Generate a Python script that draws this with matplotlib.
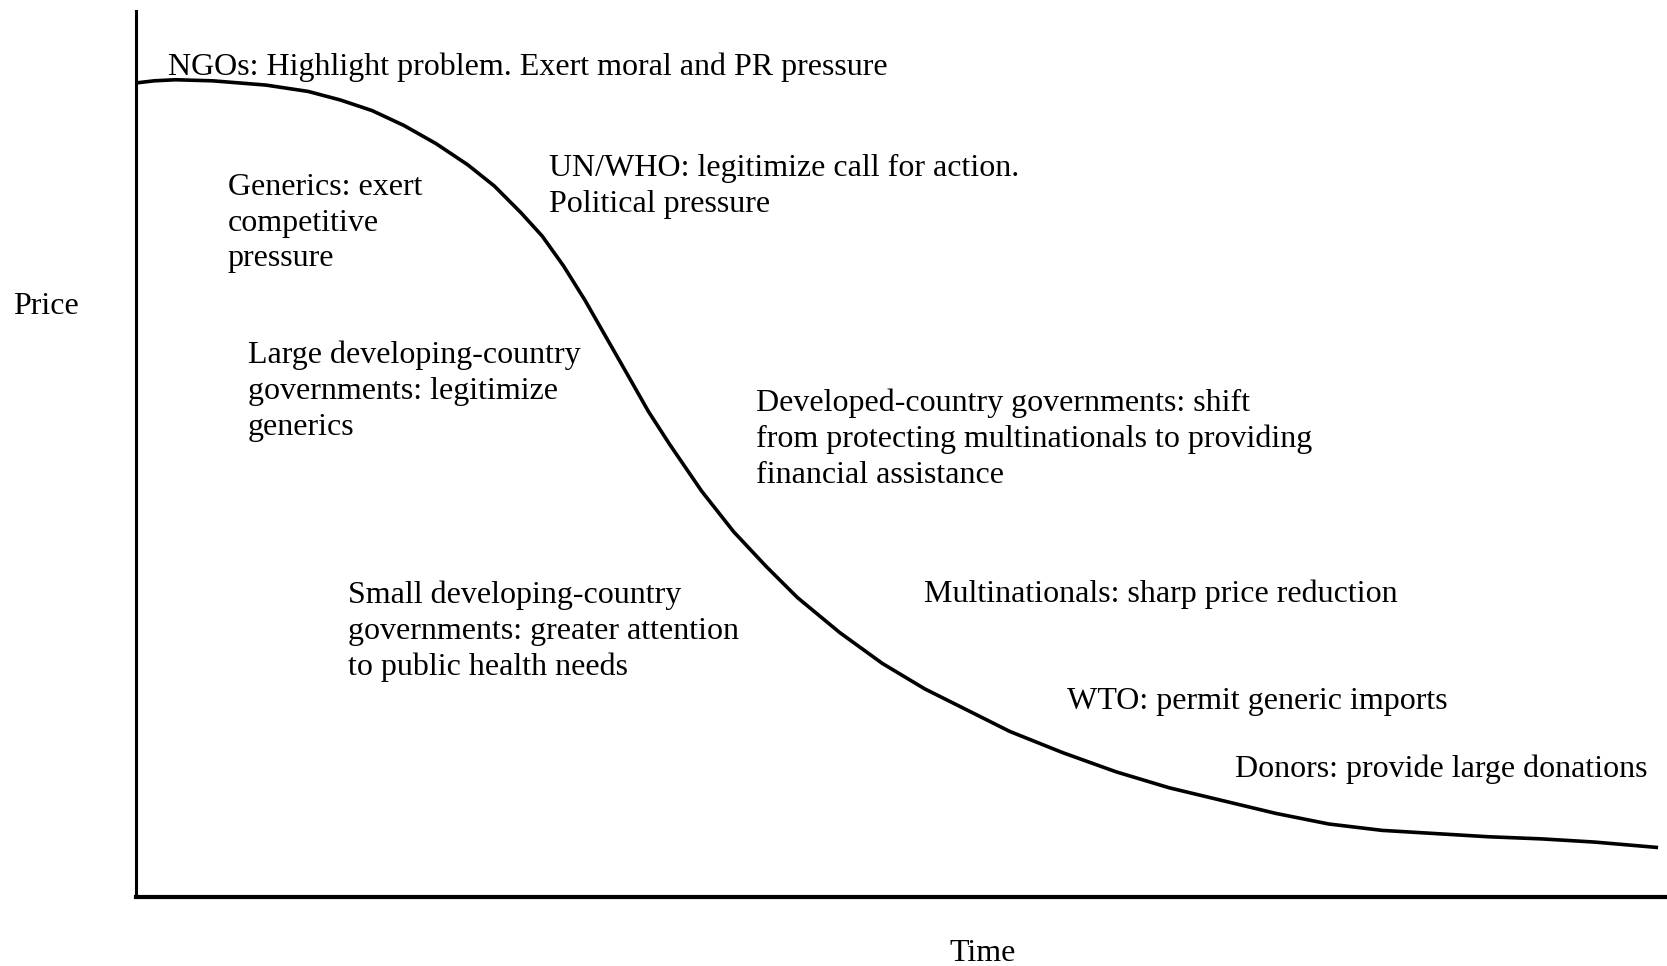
import matplotlib
matplotlib.use('Agg')
import matplotlib.pyplot as plt

plt.rcParams['font.family'] = ['Liberation Serif', 'DejaVu Serif']

# price curve (time and price in % of axis length)
time = [0.0, 1.19, 2.57, 5.00, 8.48, 11.25, 13.34, 15.42, 17.50, 19.59,
        21.67, 23.41, 25.14, 26.53, 27.92, 29.31, 30.70, 32.09, 33.47, 34.86,
        36.95, 39.03, 41.11, 43.20, 45.97, 48.75, 51.53, 54.31, 57.08, 60.55,
        64.03, 67.50, 70.97, 74.44, 77.91, 81.39, 84.86, 88.33, 91.80, 95.27,
        99.30]
price = [91.88, 92.12, 92.24, 92.12, 91.64, 90.92, 89.96, 88.76, 87.08, 85.04,
         82.64, 80.24, 77.24, 74.60, 71.24, 67.40, 63.20, 59.00, 54.80, 51.08,
         45.80, 41.24, 37.40, 33.80, 29.84, 26.36, 23.48, 21.08, 18.68, 16.28,
         14.12, 12.32, 10.88, 9.44, 8.24, 7.52, 7.16, 6.80, 6.56, 6.20,
         5.60]

labels = [
    "NGOs: Highlight problem. Exert moral and PR pressure",
    "Generics: exert\ncompetitive\npressure",
    "UN/WHO: legitimize call for action.\nPolitical pressure",
    "Large developing-country\ngovernments: legitimize\ngenerics",
    "Developed-country governments: shift\nfrom protecting multinationals to providing\nfinancial assistance",
    "Small developing-country\ngovernments: greater attention\nto public health needs",
    "Multinationals: sharp price reduction",
    "WTO: permit generic imports",
    "Donors: provide large donations",
]
# left edge / vertical centre of each label, in reference pixels (1568x909 view)
label_pos = [(158, 63), (214, 210), (516, 175.5), (233, 368), (711, 413),
             (327, 594), (869, 559.5), (1004, 660.5), (1162, 723.5)]

W, H = 1568.0, 909.0

fig = plt.figure(figsize=(16.67, 9.66), dpi=100, facecolor='w')
ax = fig.add_axes([136 / 1667, 69 / 966, 1 - 136 / 1667, (897 - 11) / 966])
ax.plot(time, price, color='black', linewidth=2.6, solid_joinstyle='round')
ax.set_xlim(0, 100)
ax.set_ylim(0, 100)
ax.set_xticks([])
ax.set_yticks([])
ax.spines['top'].set_visible(False)
ax.spines['right'].set_visible(False)
ax.spines['left'].set_linewidth(2.2)
ax.spines['bottom'].set_linewidth(3)
ax.patch.set_alpha(0)

fs = 23
for txt, (x, y) in zip(labels, label_pos):
    fig.text(x / W, 1 - y / H, txt, fontsize=fs, ha='left', va='center',
             linespacing=1.31)

fig.text(12 / W, 1 - 288.5 / H, 'Price', fontsize=fs, ha='left', va='center')
fig.text(924 / W, 1 - 897.5 / H, 'Time', fontsize=fs, ha='center', va='center')

fig.savefig('out.png', dpi=100, facecolor='w')
